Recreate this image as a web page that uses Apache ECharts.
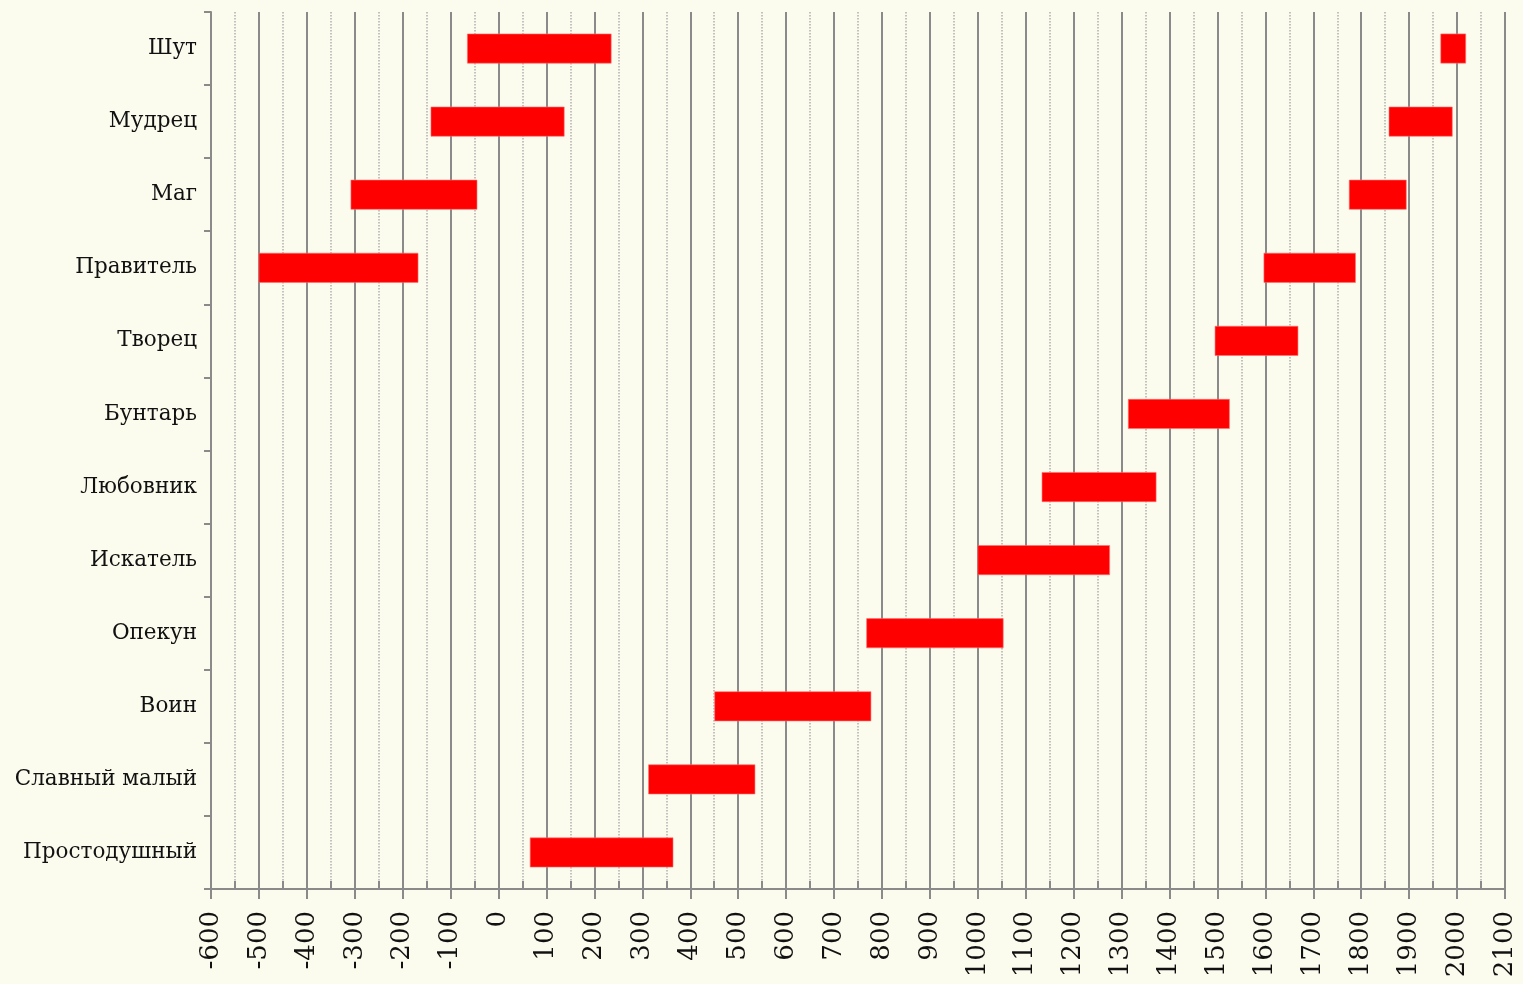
<!DOCTYPE html>
<html>
<head>
<meta charset="utf-8">
<script src="https://cdn.jsdelivr.net/npm/echarts@6/dist/echarts.min.js"></script>
<style>
html,body{margin:0;padding:0;background:#fbfbee;}
#chart{width:1523px;height:984px;}
</style>
</head>
<body>
<div id="chart"></div>
<script>
// Categories listed bottom to top
var categories = ['Простодушный','Славный малый','Воин','Опекун','Искатель','Любовник','Бунтарь','Творец','Правитель','Маг','Мудрец','Шут'];
var start1 = [66, 313, 451, 768, 1000, 1134, 1314, 1495, -500, -308, -141, -65];
var end1   = [364, 535, 777, 1053, 1275, 1372, 1525, 1668, -168, -45, 137, 235];
var start2 = [null, null, null, null, null, null, null, null, 1597, 1775, 1858, 1966];
var end2   = [null, null, null, null, null, null, null, null, 1788, 1894, 1990, 2018];
var xMin = -600, xMax = 2100, xStep = 100;

var data = [];
for (var i = 0; i < categories.length; i++) {
  data.push([i, start1[i], end1[i]]);
  if (start2[i] !== null) data.push([i, start2[i], end2[i]]);
}

var font = 'DejaVu Serif';
var chart = echarts.init(document.getElementById('chart'), null, {renderer:'canvas'});
chart.setOption({
  backgroundColor: '#fbfbee',
  animation: false,
  grid: {left: 211, right: 18, top: 12, bottom: 95, containLabel: false},
  xAxis: [{
    type: 'value', min: xMin, max: xMax, interval: xStep,
    axisLine: {show: true, lineStyle: {color: '#8a8a8a', width: 2}},
    axisTick: {show: true, length: 10, lineStyle: {color: '#8a8a8a', width: 2}},
    axisLabel: {rotate: 90, margin: 22, color: '#111', fontFamily: font, fontSize: 26,
      formatter: function (v) { return String(v); }},
    splitLine: {show: true, lineStyle: {color: '#8a8a8a', width: 2}},
    minorTick: {show: false, splitNumber: 2},
    minorSplitLine: {show: true, lineStyle: {color: '#b0b0b0', width: 1.5, type: 'dotted'}}
  }, {
    type: 'value', min: xMin, max: xMax, interval: 50, position: 'bottom',
    axisLine: {show: false},
    axisTick: {show: true, inside: true, length: 8, lineStyle: {color: '#8a8a8a', width: 2}},
    axisLabel: {show: false},
    splitLine: {show: false}
  }],
  yAxis: {
    type: 'category', data: categories,
    axisLine: {show: true, onZero: false, lineStyle: {color: '#8a8a8a', width: 2}},
    axisTick: {show: true, length: 7, lineStyle: {color: '#8a8a8a', width: 2}},
    axisLabel: {margin: 14, color: '#111', fontFamily: font, fontSize: 21.5},
    splitLine: {show: false}
  },
  series: [{
    type: 'custom',
    xAxisIndex: 0,
    encode: {x: [1, 2], y: 0},
    data: data,
    renderItem: function (params, api) {
      var c = api.value(0);
      var s = api.coord([api.value(1), c]);
      var e = api.coord([api.value(2), c]);
      var h = api.size([0, 1])[1] * 0.4;
      return {
        type: 'rect',
        shape: {x: s[0], y: s[1] - h / 2, width: e[0] - s[0], height: h},
        style: {fill: '#ff0000', stroke: '#ff7070', lineWidth: 0.6}
      };
    }
  }]
});
</script>
</body>
</html>
